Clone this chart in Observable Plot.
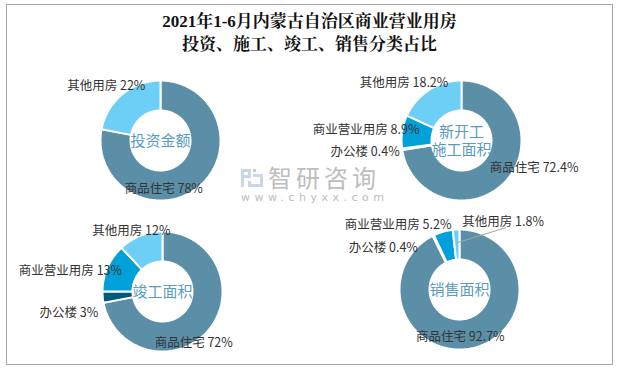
<!DOCTYPE html>
<html>
<head>
<meta charset="utf-8">
<script src="https://cdn.jsdelivr.net/npm/d3@7"></script>
<script src="https://cdn.jsdelivr.net/npm/@observablehq/plot@0.6"></script>
<style>
  body { margin: 0; background: #fff; }
  #wrap { position: relative; width: 619px; height: 370px; overflow: hidden; font-family: "Noto Sans CJK SC", sans-serif; }
  #frame { position: absolute; left: 6px; top: 4px; width: 607px; height: 361px; box-sizing: border-box; border: 1px solid #a6a6a6; }
  #title { position: absolute; left: 0; top: 10px; width: 619px; text-align: center; font-family: "Liberation Serif", "Noto Serif CJK SC", "Noto Sans CJK SC", serif; font-size: 17px; line-height: 23px; color: #111; font-weight: bold; }
  .chart { position: absolute; }
  .chart svg { overflow: visible; }
  #wm1 { position: absolute; left: 268px; top: 166px; font-size: 24px; line-height: 22px; letter-spacing: 4px; color: #bdbdbd; }
  #wm2 { position: absolute; left: 241px; top: 192px; font-size: 11px; line-height: 11px; letter-spacing: 4.5px; color: #bdbdbd; font-family: "DejaVu Sans", sans-serif; }
  #logo { position: absolute; left: 240px; top: 168px; }
</style>
</head>
<body>
<div id="wrap">
  <div id="frame"></div>
  <div id="title">2021年1-6月内蒙古自治区商业营业用房<br>投资、施工、竣工、销售分类占比</div>
  <svg id="logo" width="24" height="20" viewBox="0 0 24 20">
    <path d="M1 1 H11 V10 H4 V19 H1 Z M4 4 V7 H8 V4 Z" fill="#c9d7ea"/>
    <path d="M13 1 H16 V4 H13 Z" fill="#c9c9c9"/>
    <path d="M13 6 H23 V19 H8 V13 H11 V16 H20 V9 H13 Z" fill="#c9d7ea"/>
  </svg>
  <div id="wm1">智研咨询</div>
  <div id="wm2">www.chyxx.com</div>
</div>
<script>
// ---- data ----
const categories = ["商品住宅", "办公楼", "商业营业用房", "其他用房"];
const categoryColors = ["#5b8fa8", "#005a7e", "#00a0d9", "#6dcff6"];
const chartTitles = ["投资金额", "新开工\n施工面积", "竣工面积", "销售面积"];
const investValues = [78, null, null, 22];
const newStartValues = [72.4, 0.4, 8.9, 18.2];
const completedValues = [72, 3, 13, 12];
const salesValues = [92.7, 0.4, 5.2, 1.8];
const seriesValues = [investValues, newStartValues, completedValues, salesValues];

// ---- layout (pixels) ----
const chartCenters = [[160, 140], [461, 140], [162, 291], [459, 289]];
const labelNudges = [
  [[-35, 2], null, null, [-16, -8]],
  [[27, -11], [-37, 3], [-36, -1.5], [-25, -7]],
  [[-15, 13], [-34, 16], [-37, 3], [-9, -5]],
  [[-13, -11], [-50, 12], [-45, -7], [47, -8]]
];
const leaderLines = [[], [], [], ["其他用房"]];
const W = 300, H = 150, unit = 60, innerR = 0.5, outerR = 1;

const wrap = document.getElementById("wrap");

seriesValues.forEach((vals, ci) => {
  const items = categories.map((c, i) => ({category: c, value: vals[i], idx: i}))
    .filter(d => d.value != null && d.value > 0);
  const arcs = d3.pie().sort(null).value(d => d.value)(items);

  const pts = [];
  const labels = [];
  const links = [];
  arcs.forEach(a => {
    const span = a.endAngle - a.startAngle;
    const n = Math.max(2, Math.ceil(span / (Math.PI / 180)));
    for (let i = 0; i <= n; i++) {
      const t = a.startAngle + span * i / n;
      pts.push({category: a.data.category, x: outerR * Math.sin(t), y: outerR * Math.cos(t)});
    }
    for (let i = n; i >= 0; i--) {
      const t = a.startAngle + span * i / n;
      pts.push({category: a.data.category, x: innerR * Math.sin(t), y: innerR * Math.cos(t)});
    }
    const mid = (a.startAngle + a.endAngle) / 2;
    const nud = labelNudges[ci][a.data.idx] || [0, 0];
    const lx = Math.sin(mid) * outerR + nud[0] / unit;
    const ly = Math.cos(mid) * outerR - nud[1] / unit;
    labels.push({x: lx, y: ly, text: `${a.data.category} ${a.data.value}%`});
    if (leaderLines[ci].includes(a.data.category)) {
      links.push({x1: Math.sin(mid) * 0.78, y1: Math.cos(mid) * 0.78, x2: lx + 3 / unit, y2: ly - 6 / unit});
    }
  });

  const chart = Plot.plot({
    width: W,
    height: H,
    margin: 0,
    x: {domain: [-W / 2 / unit, W / 2 / unit], axis: null},
    y: {domain: [-H / 2 / unit, H / 2 / unit], axis: null},
    color: {domain: categories, range: categoryColors},
    style: {fontFamily: "'Noto Sans CJK SC', sans-serif", background: "transparent", overflow: "visible"},
    marks: [
      Plot.line(pts, {x: "x", y: "y", z: "category", fill: "category", stroke: "#fff", strokeWidth: 2, curve: "linear-closed", strokeLinejoin: "miter"}),
      Plot.link(links, {x1: "x1", y1: "y1", x2: "x2", y2: "y2", stroke: "#a6a6a6", strokeWidth: 1}),
      Plot.text(labels, {x: "x", y: "y", text: "text", fill: "#333", fontSize: 12.5}),
      Plot.text([chartTitles[ci]], {x: () => 0, y: () => 0, text: d => d, fill: "#5a9bc0", fontSize: 15, lineHeight: 1.2})
    ]
  });
  const div = document.createElement("div");
  div.className = "chart";
  div.style.left = (chartCenters[ci][0] - W / 2) + "px";
  div.style.top = (chartCenters[ci][1] - H / 2) + "px";
  div.appendChild(chart);
  wrap.appendChild(div);
});
</script>
</body>
</html>
